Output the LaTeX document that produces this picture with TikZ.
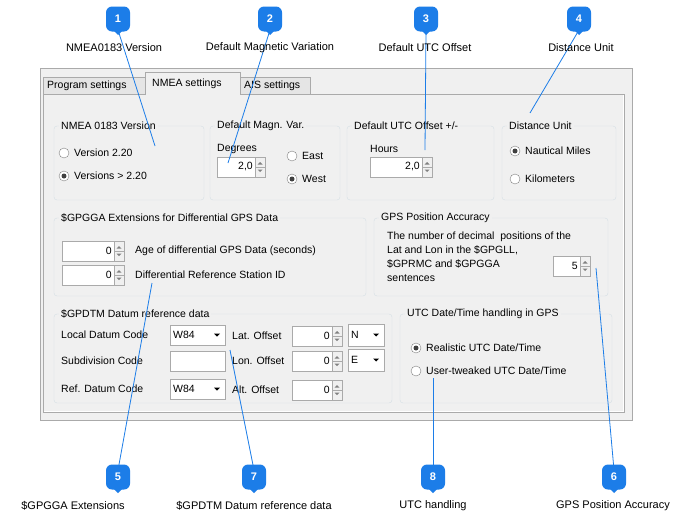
\documentclass[tikz,border=0pt]{standalone}
\usepackage{fontspec}
\setmainfont{Liberation Sans}
\definecolor{mblue}{RGB}{28,125,232}
\definecolor{winbg}{RGB}{240,240,240}
\definecolor{frm}{RGB}{170,170,170}
\definecolor{grp}{RGB}{213,223,229}
\tikzset{
 marker/.style={fill=mblue,rounded corners=6pt,minimum width=24pt,minimum height=25pt,text=white,font=\fontsize{11}{12}\selectfont\bfseries,inner sep=0pt},
 lbl/.style={font=\fontsize{11}{13}\selectfont,inner sep=0pt},
 ui/.style={font=\fontsize{10.5}{12}\selectfont,inner sep=0pt,anchor=west},
 callline/.style={draw=mblue,line width=0.8pt},
 gtitle/.style={font=\fontsize{10.5}{12}\selectfont,fill=winbg,inner xsep=2pt,inner ysep=0pt,anchor=west},
}
\newcommand{\mrk}[4]{\node[marker] (#1) at (#2,#3) {#4};
 \fill[mblue] (#2-6,#3+10) -- (#2+6,#3+10) -- (#2,#3+16) -- cycle;}
\newcommand{\grpbox}[5]{\draw[grp,rounded corners=3pt] (#1,#2) rectangle (#3,#4);
 \node[gtitle] at (#1+5,#2) {#5};}
\newcommand{\spinbox}[5]{\draw[frm,fill=white] (#1,#2) rectangle (#3,#4);
 \node[ui,anchor=east] at (#3-12,{(#2+#4)/2}) {#5};
 \draw[frm,fill=winbg] (#3-10,#2) rectangle (#3,{(#2+#4)/2}) (#3-10,{(#2+#4)/2}) rectangle (#3,#4);
 \fill[gray] (#3-7.5,{(#2+#4)/2-2.5}) -- (#3-2.5,{(#2+#4)/2-2.5}) -- (#3-5,{(#2+#4)/2-5}) -- cycle;
 \fill[gray] (#3-7.5,{(#2+#4)/2+2.5}) -- (#3-2.5,{(#2+#4)/2+2.5}) -- (#3-5,{(#2+#4)/2+5}) -- cycle;}
\newcommand{\combob}[5]{\draw[frm,fill=white] (#1,#2) rectangle (#3,#4);
 \node[ui] at (#1+3,{(#2+#4)/2}) {#5};
 \fill[black] (#3-11,{(#2+#4)/2-1.5}) -- (#3-5,{(#2+#4)/2-1.5}) -- (#3-8,{(#2+#4)/2+1.5}) -- cycle;}
\newcommand{\radiob}[4]{\draw[gray,fill=white] (#1,#2) circle (5);
 \ifnum#4=1 \fill[black!75] (#1,#2) circle (2.5);\fi
 \node[ui] at (#1+10,#2) {#3};}
\begin{document}
\begin{tikzpicture}[x=1pt,y=-1pt]
\useasboundingbox (0,0) rectangle (698,530);
\fill[white] (0,0) rectangle (698,530);
% window
\draw[frm,fill=winbg] (40,68) rectangle (632,420);
\draw[frm,fill=white] (43,94) rectangle (624,412);
\fill[winbg] (44,95) rectangle (623,411);
% tabs
\draw[frm,fill=winbg!90!gray] (43,94) -- (43,77) -- (145,77) -- (145,94);
\node[ui] at (47,86) {Program settings};
\draw[frm,fill=winbg!90!gray] (240,94) -- (240,77) -- (310,77) -- (310,94);
\node[ui] at (244,86) {AIS settings};
\draw[frm,fill=winbg] (145,95) -- (145,72) -- (240,72) -- (240,95);
\node[ui] at (152,84) {NMEA settings};
% groups
\grpbox{54}{126}{204}{200}{NMEA 0183 Version}
\radiob{64}{153}{Version 2.20}{0}
\radiob{64}{176}{Versions > 2.20}{1}
\grpbox{210}{126}{340}{200}{Default Magn. Var.}
\node[ui] at (217,149) {Degrees};
\spinbox{217}{157}{265}{177}{2,0}
\radiob{292}{156}{East}{0}
\radiob{292}{179}{West}{1}
\grpbox{347}{126}{494}{200}{Default UTC Offset +/-}
\node[ui] at (370,149) {Hours};
\spinbox{370}{157}{432}{177}{2,0}
\grpbox{502}{126}{616}{200}{Distance Unit}
\radiob{515}{151}{Nautical Miles}{1}
\radiob{515}{179}{Kilometers}{0}
\grpbox{54}{218}{366}{296}{\$GPGGA Extensions for Differential GPS Data}
\spinbox{62}{241}{124}{261}{0}
\node[ui] at (135,251) {Age of differential GPS Data (seconds)};
\spinbox{62}{265}{124}{285}{0}
\node[ui] at (135,275) {Differential Reference Station ID};
\grpbox{374}{218}{608}{296}{GPS Position Accuracy}
\node[ui,anchor=north west,align=left,font=\fontsize{10.5}{14}\selectfont] at (387,232) {The number of decimal\ \ positions of the\\Lat and Lon in the \$GPGLL,\\\$GPRMC and \$GPGGA\\sentences};
\spinbox{553}{256}{590}{276}{5}
\grpbox{54}{314}{392}{403}{\$GPDTM Datum reference data}
\node[ui] at (61,335) {Local Datum Code};
\combob{170}{325}{225}{345}{W84}
\node[ui] at (61,361) {Subdivision Code};
\draw[frm,fill=white] (170,351) rectangle (225,371);
\node[ui] at (61,389) {Ref. Datum Code};
\combob{170}{379}{225}{399}{W84}
\node[ui] at (232,336) {Lat. Offset};
\spinbox{292}{326}{342}{346}{0}
\node[ui] at (232,361) {Lon. Offset};
\spinbox{292}{351}{342}{371}{0}
\node[ui] at (232,390) {Alt. Offset};
\spinbox{292}{380}{342}{400}{0}
\combob{348}{324}{384}{346}{N}
\combob{348}{349}{384}{371}{E}
\grpbox{400}{314}{612}{403}{UTC Date/Time handling in GPS}
\radiob{416}{348}{Realistic UTC Date/Time}{1}
\radiob{416}{371}{User-tweaked UTC Date/Time}{0}
% callouts
\coordinate (e1) at (155,146);
\coordinate (e2) at (228,163);
\coordinate (e3) at (425,150);
\coordinate (e4) at (530,113);
\coordinate (e5) at (152,283);
\coordinate (e7) at (230,350);
\coordinate (e8) at (433,378);
\coordinate (e6) at (596,268);
\draw[callline] (118,30) -- (e1);
\draw[callline] (270,30) -- (e2);
\draw[callline] (426,30) -- (e3);
\draw[callline] (579,30) -- (e4);
\draw[callline] (118,470) -- (e5);
\draw[callline] (254,470) -- (e7);
\draw[callline] (433,470) -- (e8);
\draw[callline] (614,470) -- (e6);
\mrk{m1}{118}{19}{1}
\mrk{m2}{270}{19}{2}
\mrk{m3}{426}{19}{3}
\mrk{m4}{579}{19}{4}
\mrk{m5}{118}{477}{5}
\mrk{m7}{254}{477}{7}
\mrk{m8}{433}{477}{8}
\mrk{m6}{614}{477}{6}
\node[lbl] at (114,48) {NMEA0183 Version};
\node[lbl] at (270,48) {Default Magnetic Variation};
\node[lbl] at (425,48) {Default UTC Offset};
\node[lbl] at (581,48) {Distance Unit};
\node[lbl] at (73,506) {\$GPGGA Extensions};
\node[lbl] at (254,506) {\$GPDTM Datum reference data};
\node[lbl] at (433,506) {UTC handling};
\node[lbl] at (613,506) {GPS Position Accuracy};
\end{tikzpicture}
\end{document}
